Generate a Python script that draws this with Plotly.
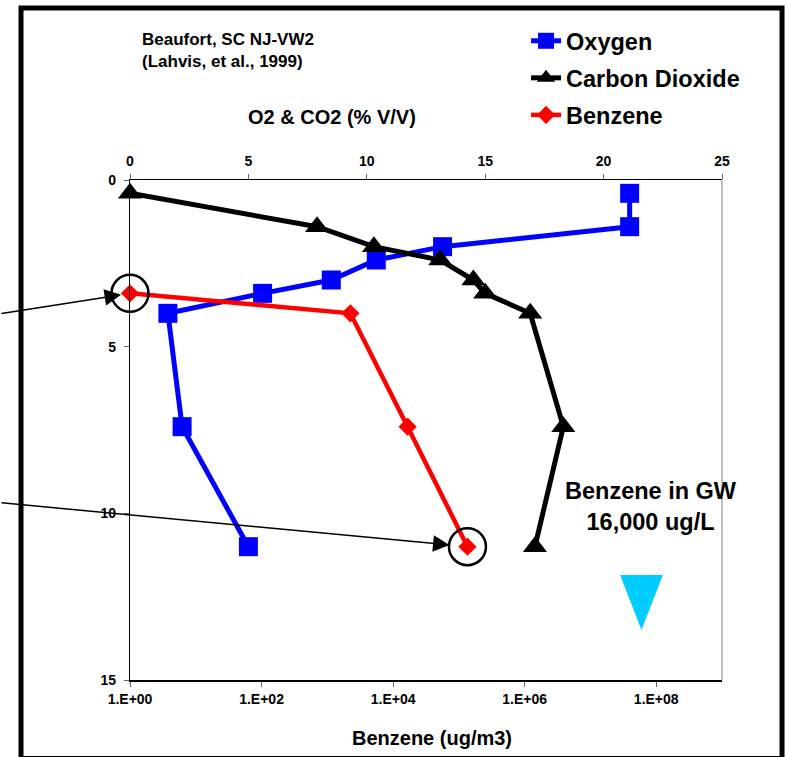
import math
import plotly.graph_objects as go

# Soil-gas profile, Beaufort SC, well NJ-VW2
depth_ft = [0.4, 1.4, 2.0, 2.4, 3.0, 3.4, 4.0, 7.4, 11.0]
oxygen_pct = [21.1, 21.1, 13.2, 10.4, 8.5, 5.6, 1.6, 2.2, 5.0]
co2_pct = [0.0, 7.9, 10.3, 13.1, 14.5, 15.0, 16.9, 18.3, 17.1]

benzene_depth_ft = [3.4, 4.0, 7.4, 11.0]
benzene_ugm3 = [1.0, 2240.0, 16600.0, 135000.0]

pct_ticks = [0, 5, 10, 15, 20, 25]
benz_ticks = [1, 1e2, 1e4, 1e6, 1e8]
benz_tick_labels = ["1.E+00", "1.E+02", "1.E+04", "1.E+06", "1.E+08"]
depth_ticks = [0, 5, 10, 15]

site_label = "<b>Beaufort, SC NJ-VW2</b><br><b>(Lahvis, et al., 1999)</b>"
gw_label = "<b>Benzene in GW</b><br><b>16,000 ug/L</b>"

# water-table symbol (in % axis / depth units)
wt_x, wt_half_w, wt_top, wt_tip = 21.6, 0.9, 11.85, 13.5

FONT = "Liberation Sans, Arial, sans-serif"
BLUE, RED, CYAN = "#0000FF", "#FF0000", "#00CCFF"


def bold(s):
    return f"<b>{s}</b>"


fig = go.Figure()

fig.add_trace(go.Scatter(
    x=oxygen_pct, y=depth_ft, name=bold("Oxygen"), legendgroup="o2",
    mode="lines+markers", xaxis="x", yaxis="y", cliponaxis=False,
    line=dict(color=BLUE, width=5),
    marker=dict(symbol="square", size=19, color=BLUE, line=dict(width=0)),
))
fig.add_trace(go.Scatter(
    x=co2_pct, y=depth_ft, name=bold("Carbon Dioxide"), legendgroup="co2",
    mode="lines+markers", xaxis="x", yaxis="y", cliponaxis=False,
    line=dict(color="black", width=5),
    marker=dict(symbol="triangle-up", size=21, color="black", line=dict(width=0)),
))
fig.add_trace(go.Scatter(
    x=benzene_ugm3, y=benzene_depth_ft, name=bold("Benzene"), legendgroup="bz",
    mode="lines+markers", xaxis="x2", yaxis="y", cliponaxis=False,
    line=dict(color=RED, width=4.5),
    marker=dict(symbol="diamond", size=14, color=RED, line=dict(width=0)),
))
# rings around the shallowest and deepest benzene samples
ring_idx = [0, len(benzene_ugm3) - 1]
fig.add_trace(go.Scatter(
    x=[benzene_ugm3[i] for i in ring_idx], y=[benzene_depth_ft[i] for i in ring_idx],
    mode="markers", xaxis="x2", yaxis="y", cliponaxis=False, showlegend=False,
    hoverinfo="skip",
    marker=dict(symbol="circle-open", size=37, color="black", line=dict(width=2.5, color="black")),
))

tick_font = dict(family=FONT, size=14, color="black", weight="bold")

annotations = [
    dict(text=site_label, xref="paper", yref="paper", x=0.017, y=1.26,
         xanchor="left", yanchor="middle", align="left", showarrow=False,
         font=dict(family=FONT, size=17, color="black")),
    dict(text=bold("O2 & CO2 (% V/V)"), xref="paper", yref="paper", x=0.341, y=1.126,
         xanchor="center", yanchor="middle", showarrow=False,
         font=dict(family=FONT, size=20, color="black")),
    dict(text=bold("Benzene (ug/m3)"), xref="paper", yref="paper", x=0.51, y=-0.116,
         xanchor="center", yanchor="middle", showarrow=False,
         font=dict(family=FONT, size=20, color="black")),
    dict(text=gw_label, xref="x", yref="y", x=22.0, y=9.8,
         xanchor="center", yanchor="middle", align="center", showarrow=False,
         font=dict(family=FONT, size=23.5, color="black")),
    # pointers to the circled benzene samples
    dict(text="", xref="x2", yref="y", x=math.log10(benzene_ugm3[0]), y=benzene_depth_ft[0],
         axref="pixel", ayref="pixel", ax=-140, ay=20.5, showarrow=True,
         arrowhead=2, arrowsize=2.2, arrowwidth=1.5, arrowcolor="black", standoff=9),
    dict(text="", xref="x2", yref="y", x=math.log10(benzene_ugm3[-1]), y=benzene_depth_ft[-1],
         axref="pixel", ayref="pixel", ax=-478, ay=-44, showarrow=True,
         arrowhead=2, arrowsize=2.2, arrowwidth=1.5, arrowcolor="black", standoff=18),
]

shapes = [
    # outer frame
    dict(type="rect", xref="paper", yref="paper", x0=-0.1841, x1=1.1014, y0=-0.157, y1=1.344,
         line=dict(color="black", width=5), fillcolor="rgba(0,0,0,0)", layer="below"),
    # right edge of the plot area
    dict(type="line", xref="paper", yref="paper", x0=1, x1=1, y0=0, y1=1,
         line=dict(color="#808080", width=1)),
    # water-table symbol
    dict(type="path", xref="x", yref="y",
         path=f"M {wt_x - wt_half_w},{wt_top} L {wt_x + wt_half_w},{wt_top} L {wt_x},{wt_tip} Z",
         fillcolor=CYAN, line=dict(width=0)),
]

fig.update_layout(
    width=787, height=757,
    margin=dict(l=130, r=65, t=180, b=77),
    paper_bgcolor="white", plot_bgcolor="white",
    font=dict(family=FONT, color="black"),
    showlegend=True,
    legend=dict(x=0.669, y=1.322, xanchor="left", yanchor="top",
                font=dict(family=FONT, size=23.5, color="black"),
                bgcolor="rgba(0,0,0,0)", borderwidth=0,
                traceorder="grouped", tracegroupgap=3.5),
    xaxis=dict(side="top", range=[0, 25], tickvals=pct_ticks, ticktext=[bold(v) for v in pct_ticks],
               showline=True, linecolor="black", linewidth=1, mirror=False,
               ticks="outside", ticklen=5, tickcolor="#666", tickwidth=1,
               showgrid=False, zeroline=False, tickfont=tick_font, ticklabelstandoff=2),
    xaxis2=dict(type="log", range=[0, 9], overlaying="x", side="bottom", anchor="y",
                tickvals=benz_ticks, ticktext=[bold(t) for t in benz_tick_labels],
                showline=True, linecolor="black", linewidth=1.5,
                ticks="outside", ticklen=5, tickcolor="#666", tickwidth=1,
                showgrid=False, zeroline=False, tickfont=tick_font, ticklabelstandoff=0),
    yaxis=dict(range=[15, 0], tickvals=depth_ticks, ticktext=[bold(v) for v in depth_ticks],
               showline=True, linecolor="black", linewidth=1.2,
               ticks="outside", ticklen=5, tickcolor="#666", tickwidth=1,
               showgrid=False, zeroline=False, tickfont=tick_font, ticklabelstandoff=5),
    annotations=annotations,
    shapes=shapes,
)

fig.write_html("out.html")
